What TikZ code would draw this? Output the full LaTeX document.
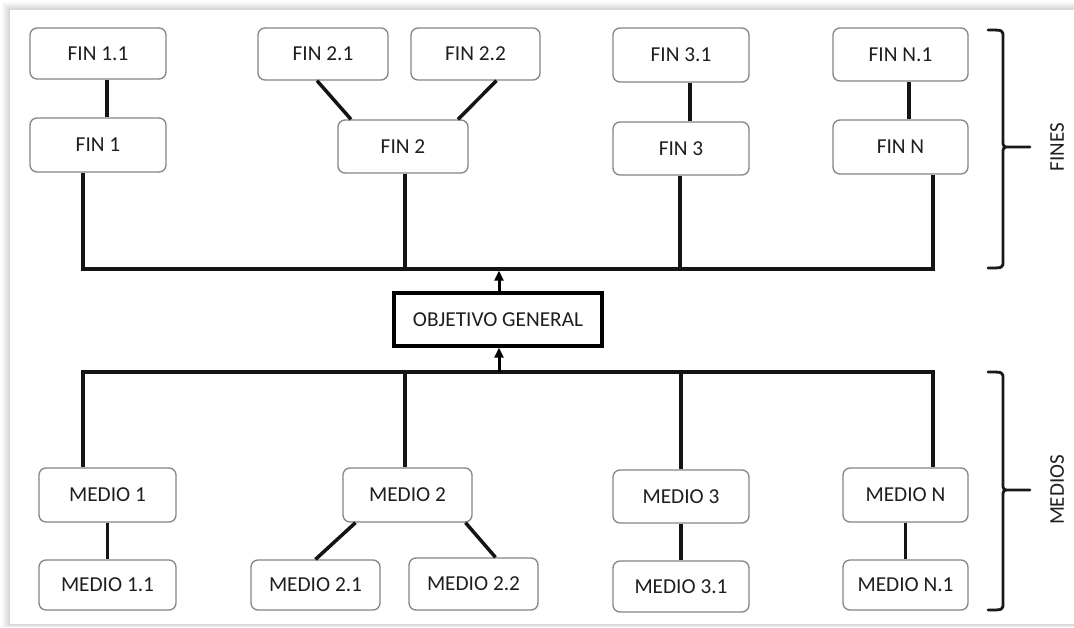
\documentclass[tikz,border=0pt]{standalone}
\usepackage{fontspec}
\setmainfont{Carlito}
\usetikzlibrary{arrows.meta}
\definecolor{ink}{HTML}{1E1E1E}
\definecolor{boxline}{HTML}{858585}
\begin{document}
\begin{tikzpicture}[x=1pt,y=-1pt,
  every node/.style={font=\fontsize{21.3}{25}\selectfont, text=ink},
  card/.style={draw=boxline, line width=1.3pt, rounded corners=7pt, fill=white,
    inner sep=0pt, align=center},
  goal/.style={draw=black, line width=3.4pt, fill=white, inner sep=0pt},
  wire/.style={line width=3.5pt, draw=black!92, line join=miter},
  arr/.style={line width=3pt, draw=black, -{Triangle[width=9pt,length=10pt]}},
  brace/.style={line width=2.8pt, draw=black!90, line cap=round},
  side/.style={rotate=90, font=\fontsize{21}{25}\selectfont}]

% page and card with a soft shadow on its upper and left edges
\useasboundingbox (0,0) rectangle (1074,627);
\fill[white] (0,0) rectangle (1074,627);
\foreach \i in {1,...,8}
  \fill[black, opacity=0.018] (10-\i,10-\i) rectangle (1074,625+0.25*\i);
\fill[white] (10,10) rectangle (1074,624);

% FINES
\node[card, minimum width=136pt, minimum height=51pt] (fin11) at (98,53.5)   {FIN 1.1};
\node[card, minimum width=136pt, minimum height=54pt] (fin1)  at (98,145)    {FIN 1};
\node[card, minimum width=130pt, minimum height=52pt] (fin21) at (323,54)    {FIN 2.1};
\node[card, minimum width=129pt, minimum height=52pt] (fin22) at (475.5,54)  {FIN 2.2};
\node[card, minimum width=130pt, minimum height=53pt] (fin2)  at (403,146.5) {FIN 2};
\node[card, minimum width=136pt, minimum height=54pt] (fin31) at (681,55)    {FIN 3.1};
\node[card, minimum width=136pt, minimum height=53pt] (fin3)  at (681,148.5) {FIN 3};
\node[card, minimum width=135pt, minimum height=53pt] (finN1) at (900.5,54.5) {FIN N.1};
\node[card, minimum width=135pt, minimum height=54pt] (finN)  at (900.5,147) {FIN N};

% general objective
\node[goal, minimum width=208pt, minimum height=53pt] (obj) at (498,319.5) {OBJETIVO GENERAL};

% MEDIOS
\node[card, minimum width=137pt, minimum height=54pt] (m1)  at (107.5,495) {MEDIO 1};
\node[card, minimum width=137pt, minimum height=50pt] (m11) at (107.5,585) {MEDIO 1.1};
\node[card, minimum width=129pt, minimum height=54pt] (m2)  at (407.5,495) {MEDIO 2};
\node[card, minimum width=129pt, minimum height=50pt] (m21) at (315.5,585) {MEDIO 2.1};
\node[card, minimum width=129pt, minimum height=52pt] (m22) at (473.5,584) {MEDIO 2.2};
\node[card, minimum width=136pt, minimum height=53pt] (m3)  at (681,496.5) {MEDIO 3};
\node[card, minimum width=136pt, minimum height=51pt] (m31) at (681,586.5) {MEDIO 3.1};
\node[card, minimum width=125pt, minimum height=54pt] (mN)  at (905.5,495) {MEDIO N};
\node[card, minimum width=125pt, minimum height=50pt] (mN1) at (905.5,585) {MEDIO N.1};

% bus lines
\coordinate (busT) at (933,269);
\coordinate (busB) at (933,372);

% links between the ends
\draw[wire] ([xshift=9pt]fin11.south) -- ([xshift=9pt]fin1.north);
\draw[wire] ([xshift=-6pt]fin21.south) -- ([xshift=-52pt]fin2.north);
\draw[wire] ([xshift=21pt]fin22.south) -- ([xshift=55pt]fin2.north);
\draw[wire] ([xshift=9pt]fin31.south) -- ([xshift=9pt]fin3.north);
\draw[wire] ([xshift=8.5pt]finN1.south) -- ([xshift=8.5pt]finN.north);
\draw[wire] ([xshift=-15pt]fin1.south) |- (busT) -- ([xshift=32.5pt]finN.south);
\draw[wire] ([xshift=2pt]fin2.south) -- ([xshift=2pt]fin2.south |- busT);
\draw[wire] ([xshift=-1pt]fin3.south) -- ([xshift=-1pt]fin3.south |- busT);

% links between the means
\draw[wire] (m1.south) -- (m11.north);
\draw[wire] ([xshift=-52pt]m2.south) -- (m21.north);
\draw[wire] ([xshift=58pt]m2.south) -- ([xshift=22pt]m22.north);
\draw[wire] (m3.south) -- (m31.north);
\draw[wire] (mN.south) -- (mN1.north);
\draw[wire] ([xshift=-24.5pt]m1.north) |- (busB) -- ([xshift=27.5pt]mN.north);
\draw[wire] ([xshift=-2.5pt]m2.north) -- ([xshift=-2.5pt]m2.north |- busB);
\draw[wire] (m3.north) -- (m3.north |- busB);

% arrows towards and from the objective
\draw[arr, shorten >=1.7pt] ([xshift=1pt]obj.north) -- ([xshift=1pt]obj.north |- busT);
\draw[arr] ([xshift=1pt]obj.south |- busB) -- ([xshift=1pt]obj.south);

% braces with their labels
\draw[brace] (988,30) .. controls (1003,30) .. (1003,37) -- (1003,140)
  .. controls (1003,147) .. (1010,147) -- (1030,147)
  (1010,147) .. controls (1003,147) .. (1003,154) -- (1003,261)
  .. controls (1003,268) .. (988,268);
\node[side] (fines) at (1057,147) {FINES};

\draw[brace] (988,372) .. controls (1003,372) .. (1003,379) -- (1003,483)
  .. controls (1003,490) .. (1010,490) -- (1030,490)
  (1010,490) .. controls (1003,490) .. (1003,497) -- (1003,603)
  .. controls (1003,610) .. (988,610);
\node[side] (medios) at (1057,490) {MEDIOS};
\end{tikzpicture}
\end{document}
